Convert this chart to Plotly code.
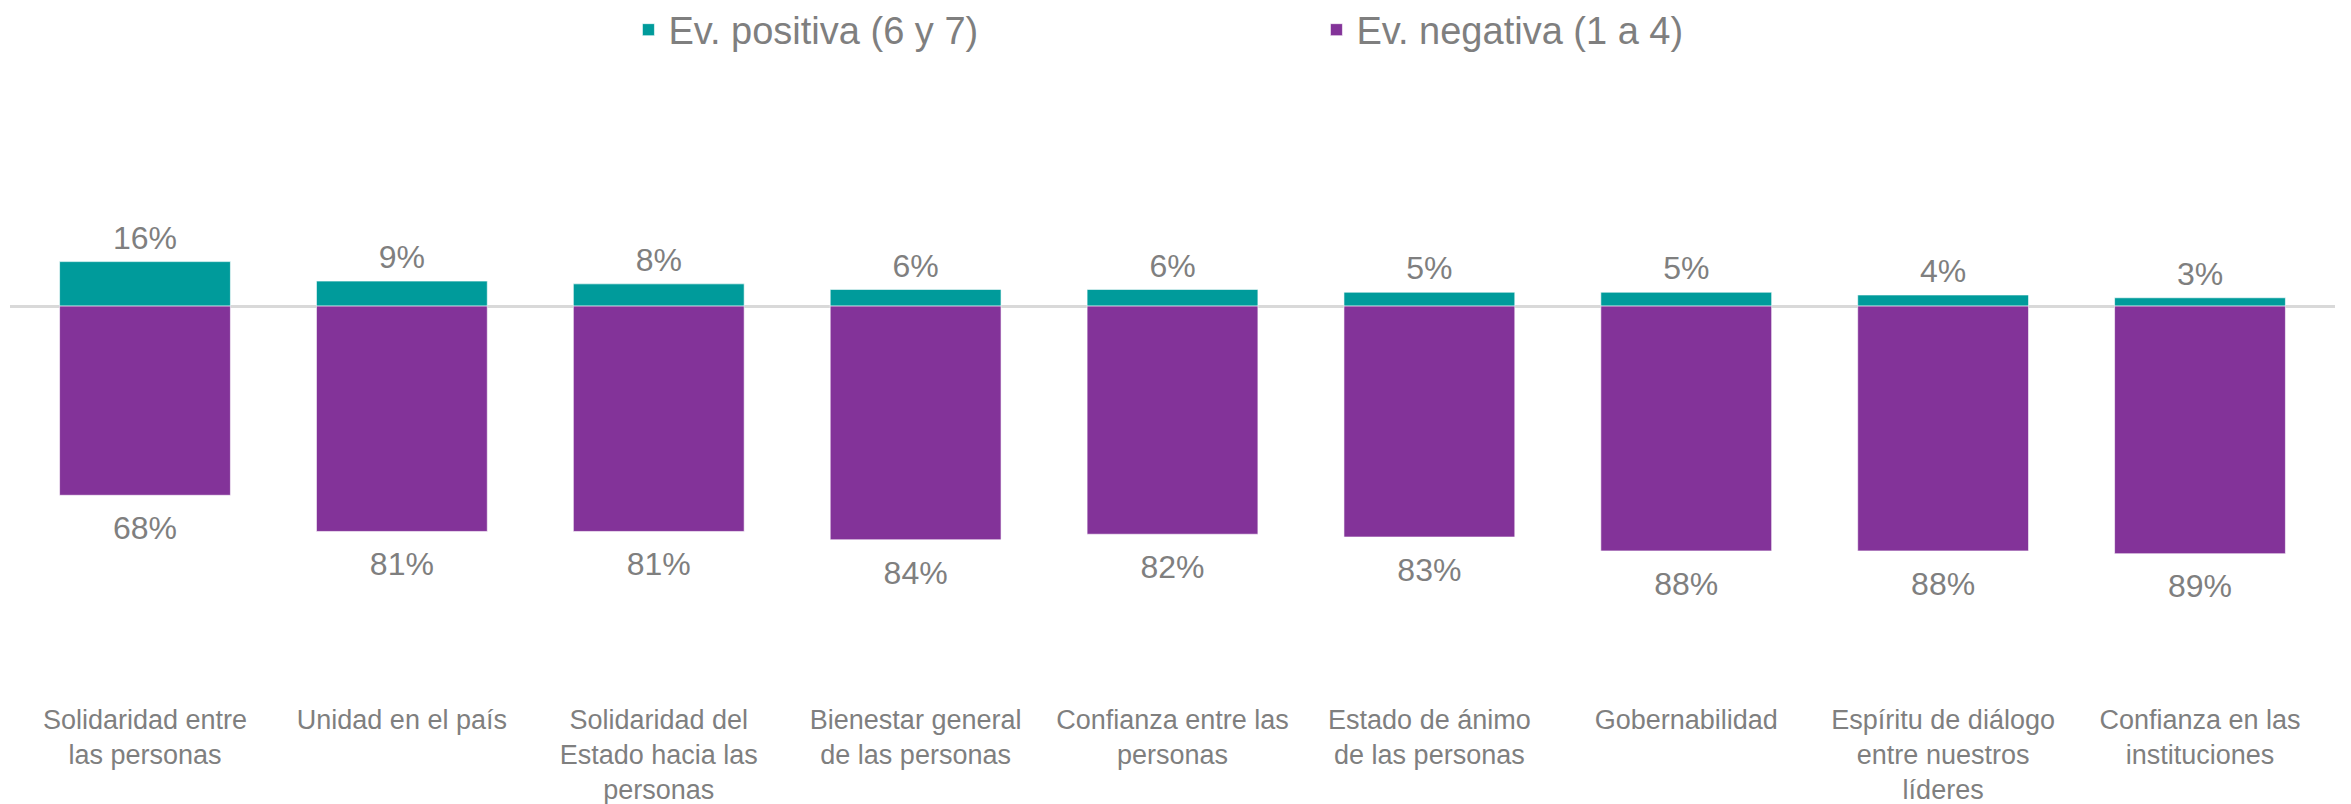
import plotly.graph_objects as go

# categorias y valores (%)
categorias = [
    "Solidaridad entre<br>las personas",
    "Unidad en el país",
    "Solidaridad del<br>Estado hacia las<br>personas",
    "Bienestar general<br>de las personas",
    "Confianza entre las<br>personas",
    "Estado de ánimo<br>de las personas",
    "Gobernabilidad",
    "Espíritu de diálogo<br>entre nuestros<br>líderes",
    "Confianza en las<br>instituciones",
]
positiva = [16, 9, 8, 6, 6, 5, 5, 4, 3]
negativa = [68, 81, 81, 84, 82, 83, 88, 88, 89]

gris = "#7F7F7F"
fuente = "Liberation Sans, Arial, sans-serif"

fig = go.Figure()

fig.add_trace(go.Bar(
    x=categorias,
    y=positiva,
    name="Ev. positiva (6 y 7)",
    marker_color="#009B9B",
    marker_line=dict(color="rgba(255,255,255,0.6)", width=1),
))

fig.add_trace(go.Bar(
    x=categorias,
    y=[-v for v in negativa],
    name="Ev. negativa (1 a 4)",
    marker_color="#833399",
    marker_line=dict(color="rgba(255,255,255,0.6)", width=1),
))

# etiquetas de datos
fig.add_trace(go.Scatter(
    x=categorias,
    y=positiva,
    mode="markers+text",
    marker=dict(size=6, color="rgba(0,0,0,0)"),
    text=[f"{v}%" for v in positiva],
    textposition="top center",
    textfont=dict(family=fuente, size=32, color=gris),
    showlegend=False,
    hoverinfo="skip",
    cliponaxis=False,
))

fig.add_trace(go.Scatter(
    x=categorias,
    y=[-v for v in negativa],
    mode="markers+text",
    marker=dict(size=30, color="rgba(0,0,0,0)"),
    text=[f"{v}%" for v in negativa],
    textposition="bottom center",
    textfont=dict(family=fuente, size=32, color=gris),
    showlegend=False,
    hoverinfo="skip",
    cliponaxis=False,
))

fig.update_layout(
    width=2351,
    height=804,
    barmode="relative",
    bargap=0.335,
    plot_bgcolor="white",
    paper_bgcolor="white",
    margin=dict(l=2, r=24, t=102, b=122, autoexpand=False),
    font=dict(family=fuente, color=gris),
    showlegend=True,
    legend=dict(
        orientation="h",
        x=0.266,
        xanchor="left",
        y=1.138,
        yanchor="middle",
        entrywidth=643,
        entrywidthmode="pixels",
        font=dict(family=fuente, size=38, color=gris),
        bgcolor="rgba(0,0,0,0)",
    ),
    xaxis=dict(
        showgrid=False,
        showline=False,
        ticks="",
        tickfont=dict(family=fuente, size=27, color=gris),
        tickangle=0,
        ticklabelstandoff=11,
    ),
    yaxis=dict(
        range=[-138, 70.5],
        showgrid=False,
        showticklabels=False,
        zeroline=True,
        zerolinecolor="#D9D9D9",
        zerolinewidth=3,
    ),
)

fig.write_html("out.html")
